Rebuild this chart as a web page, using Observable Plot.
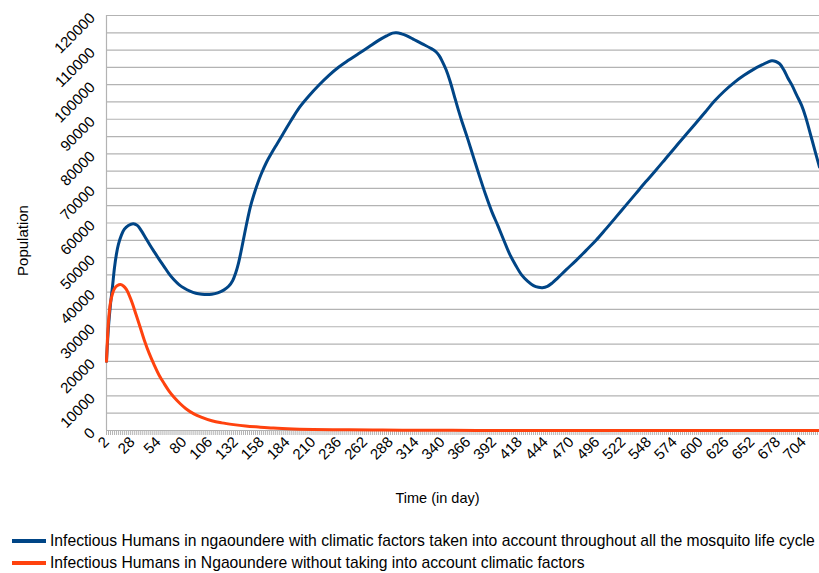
<!DOCTYPE html>
<html>
<head>
<meta charset="utf-8">
<script src="https://cdn.jsdelivr.net/npm/d3@7"></script>
<script src="https://cdn.jsdelivr.net/npm/@observablehq/plot@0.6"></script>
<style>
  body { margin: 0; background: #fff; font-family: "Liberation Sans", Arial, sans-serif; }
  #wrap { position: relative; width: 819px; height: 573px; overflow: hidden; }
  #legend { position: absolute; left: 12px; top: 530px; font-size: 15.7px; color: #000; }
  .row { display: flex; align-items: center; height: 22px; white-space: nowrap; }
  .sw { width: 34px; height: 3.5px; margin-right: 4px; }
</style>
</head>
<body>
<div id="wrap"><div id="chart"></div><div id="legend"></div></div>
<script>
// Infectious humans over time (days), two model runs
const seriesNames = [
  "Infectious Humans in ngaoundere with climatic factors taken into account throughout all the mosquito life cycle",
  "Infectious Humans in Ngaoundere without taking into account climatic factors"
];
const seriesColors = ["#004586", "#ff420e"];

const climaticDays = [2,4,6,8,10,12,14,17,20,24,29,33,37,41,46,50,55,60,65,70,75,80,86,92,98,103,108,114,120,125,129,132,135,138,141,144,147,150,154,158,163,168,174,180,188,196,206,216,226,236,246,256,266,276,284,290,294,299,304,312,320,328,333,337,340,344,348,352,356,360,366,372,378,384,390,396,402,408,414,420,426,432,437,441,446,451,456,465,475,485,495,505,515,525,535,545,555,565,575,585,595,605,614,624,634,644,654,662,668,672,676,680,684,688,692,697,702,706,712,716,720];
const climaticValues = [20000,30000,36500,41500,47000,51000,53800,56500,58200,59300,59800,59300,57800,55900,53500,51700,49500,47400,45300,43600,42200,41200,40300,39700,39400,39300,39400,39800,40600,41700,43300,45500,48500,52500,56800,61000,64800,67800,71300,74300,77500,80100,83000,85900,89700,93300,96800,99900,102700,105100,107100,109000,110900,112800,114100,114900,115000,114700,114200,113000,111800,110600,109700,108400,106800,104300,101000,97000,93000,89300,84100,78600,73200,68000,63300,59300,55100,51000,47800,45000,43200,41900,41400,41300,41700,42700,44000,46500,49200,52100,55000,58300,61700,65100,68500,71900,75200,78600,82000,85400,88700,92100,95200,98100,100600,102700,104500,105700,106500,106900,106700,106000,104300,102000,100000,97000,94000,90700,84500,80300,76200];

const plainDays = [2,4,6,8,10,13,16,19,22,25,28,32,36,40,45,50,55,60,65,70,76,82,90,98,108,118,130,142,155,170,190,210,240,270,300,350,400,450,500,600,720];
const plainValues = [20000,31500,37000,39500,41000,41900,42200,41800,40800,39000,36800,33300,29800,26200,22300,19000,16000,13600,11400,9600,7800,6300,4800,3800,2800,2200,1700,1300,1000,700,450,300,200,130,80,40,20,10,5,2,1];

const xTickLabels = d3.range(2, 705, 26);
const yTickLabels = d3.range(0, 120001, 10000);
const yGrid = d3.range(0, 120001, 5000);
const minorTicks = d3.range(2, 721, 2);

const rows = [
  ...climaticDays.map((d, i) => ({day: d, value: climaticValues[i], s: seriesNames[0]})),
  ...plainDays.map((d, i) => ({day: d, value: plainValues[i], s: seriesNames[1]}))
];

const gridColor = "#b3b3b3";

const chart = Plot.plot({
  width: 819,
  height: 515,
  marginTop: 15,
  marginBottom: 85,
  marginLeft: 106,
  marginRight: 0,
  style: {fontFamily: "Liberation Sans, Arial, sans-serif", fontSize: "15px", color: "#000", background: "#fff"},
  x: {type: "linear", domain: [2, 720]},
  y: {type: "linear", domain: [0, 120000]},
  color: {domain: seriesNames, range: seriesColors},
  marks: [
    Plot.ruleY(yGrid, {stroke: gridColor, strokeWidth: 1.2}),
    Plot.ruleX([2], {stroke: gridColor, strokeWidth: 1.2}),
    Plot.axisX({ticks: minorTicks, tickSize: 5, stroke: gridColor, tickFormat: () => "", label: null}),
    Plot.axisY({ticks: yTickLabels, tickSize: 0, tickRotate: -45, tickPadding: 14, tickFormat: d => String(d), label: null, fontSize: 15}),
    Plot.axisX({ticks: xTickLabels, tickSize: 0, tickRotate: -45, tickPadding: 9, tickFormat: d => String(d), label: null, fontSize: 15}),
    Plot.text(["Population"], {frameAnchor: "top-left", dx: -89, dy: 225, rotate: -90, textAnchor: "middle", fontSize: 15}),
    Plot.text(["Time (in day)"], {frameAnchor: "top-left", dx: 331, dy: 477, textAnchor: "middle", fontSize: 14.5}),
    Plot.line(rows, {x: "day", y: "value", stroke: "s", z: "s", strokeWidth: 3, curve: "catmull-rom"})
  ]
});
document.getElementById("chart").appendChild(chart);

const legend = document.getElementById("legend");
seriesNames.forEach((name, i) => {
  const row = document.createElement("div");
  row.className = "row";
  const sw = document.createElement("div");
  sw.className = "sw";
  sw.style.background = seriesColors[i];
  const label = document.createElement("span");
  label.textContent = name;
  row.appendChild(sw);
  row.appendChild(label);
  legend.appendChild(row);
});
</script>
</body>
</html>
